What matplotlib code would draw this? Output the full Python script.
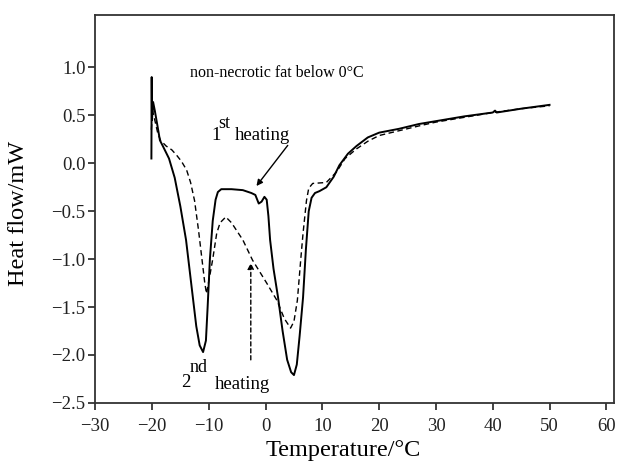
import matplotlib
matplotlib.use('Agg')
import matplotlib.pyplot as plt

plt.rcParams['font.family'] = ['Liberation Serif', 'DejaVu Serif']

# 1st heating (solid)
t1 = [-20.1, -20.05, -20.0, -19.8, -19.5, -19.0, -18.6, -18.0, -17.0, -16.0, -15.0,
      -14.0, -13.0, -12.2, -11.6, -11.0, -10.5, -10.2, -9.8, -9.3, -8.8, -8.4, -7.8,
      -6.0, -4.0, -2.5, -1.8, -1.2, -0.7, -0.2, 0.2, 0.5, 0.8, 1.4, 2.2, 3.0, 3.8,
      4.5, 5.0, 5.5, 6.0, 6.6, 7.1, 7.6, 8.1, 8.7, 9.5, 10.7, 12.0, 13.0, 14.5, 16.0,
      18.0, 20.0, 23.5, 27.0, 30.0, 35.0, 40.0, 40.4, 40.7, 45.0, 50.0]
h1 = [0.05, 0.9, 0.45, 0.64, 0.55, 0.38, 0.24, 0.17, 0.05, -0.15, -0.45,
      -0.8, -1.3, -1.7, -1.9, -1.97, -1.85, -1.5, -1.0, -0.6, -0.38, -0.3, -0.27,
      -0.27, -0.28, -0.31, -0.33, -0.42, -0.40, -0.35, -0.38, -0.55, -0.8, -1.1, -1.4, -1.75, -2.05,
      -2.18, -2.21, -2.1, -1.8, -1.4, -0.9, -0.5, -0.36, -0.31, -0.29, -0.25, -0.14, -0.02, 0.1, 0.18,
      0.27, 0.32, 0.36, 0.41, 0.44, 0.49, 0.53, 0.55, 0.53, 0.57, 0.61]

# 2nd heating (dashed)
t2 = [-20.1, -19.9, -19.5, -19.0, -18.5, -17.5, -16.5, -15.6, -14.8, -13.9, -13.2,
      -12.5, -11.8, -11.2, -10.7, -10.4, -9.9, -9.3, -8.6, -8.0, -7.0, -6.0, -4.0,
      -2.3, 0.2, 2.0, 3.3, 4.4, 5.0, 5.6, 6.2, 6.6, 7.2, 7.6, 8.3, 10.7, 12.5, 14.0,
      16.0, 18.0, 20.0, 23.5, 27.0, 30.0, 35.0, 40.0, 45.0, 50.0]
h2 = [0.35, 0.55, 0.45, 0.32, 0.24, 0.18, 0.14, 0.08, 0.02, -0.07, -0.2,
      -0.39, -0.7, -1.0, -1.25, -1.36, -1.2, -1.0, -0.73, -0.62, -0.56, -0.62, -0.80,
      -1.01, -1.25, -1.43, -1.62, -1.72, -1.65, -1.43, -1.0, -0.73, -0.39, -0.26, -0.21, -0.20, -0.09, 0.05,
      0.15, 0.23, 0.29, 0.34, 0.39, 0.43, 0.48, 0.53, 0.57, 0.60]

xticks = [-30, -20, -10, 0, 10, 20, 30, 40, 50, 60]
yticks = [-2.5, -2.0, -1.5, -1.0, -0.5, 0.0, 0.5, 1.0]

fig = plt.figure(figsize=(6.18, 4.62), dpi=100)
ax = fig.add_axes([0.154, 0.128, 0.84, 0.84])

ax.plot(t1, h1, color='black', lw=1.4)
ax.plot(t2, h2, color='black', lw=1.0, linestyle=(0, (4, 2.5)))

ax.set_xlim(-30, 61.4)
ax.set_ylim(-2.5, 1.55)
ax.set_xticks(xticks)
ax.set_yticks(yticks)
ax.set_xticklabels([f'{v:d}'.replace('-', '\u2212') for v in xticks])
ax.set_yticklabels([f'{v:.1f}'.replace('-', '\u2212') for v in yticks])
ax.tick_params(direction='out', length=5, width=1.2, labelsize=13.5, colors='#222222')
ax.tick_params(axis='x', pad=6)
ax.tick_params(axis='y', pad=2)
for s in ax.spines.values():
    s.set_linewidth(1.3)
    s.set_color('#333333')

ax.set_xlabel('Temperature/\u00b0C', fontsize=17.5)
ax.xaxis.set_label_coords((343 - 95) / 519, -0.095)
ax.set_ylabel('Heat flow/mW', fontsize=17.5)
ax.yaxis.set_label_coords(-0.128, (403 - 214) / 388)

ax.text(-13.3, 0.94, 'non-necrotic fat below 0\u00b0C', fontsize=11.5, va='center')

ax.annotate('', xy=(-1.9, -0.26), xytext=(4.2, 0.21),
            arrowprops=dict(arrowstyle='-|>', color='black', lw=1.0, mutation_scale=9))
ax.text(-9.53, 0.239, '1', fontsize=13.5, va='baseline')
ax.text(-8.29, 0.364, 'st', fontsize=13, va='baseline')
ax.text(-5.47, 0.239, 'heating', fontsize=13.5, va='baseline')

ax.annotate('', xy=(-2.6, -1.01), xytext=(-2.6, -2.08),
            arrowprops=dict(arrowstyle='-|>', color='black', lw=1.0, mutation_scale=9,
                            linestyle=(0, (3, 2))))
ax.text(-14.82, -2.33, '2', fontsize=13.5, va='baseline')
ax.text(-13.41, -2.18, 'nd', fontsize=13, va='baseline')
ax.text(-9.0, -2.36, 'heating', fontsize=13.5, va='baseline')

fig.savefig('out.png', dpi=100)
